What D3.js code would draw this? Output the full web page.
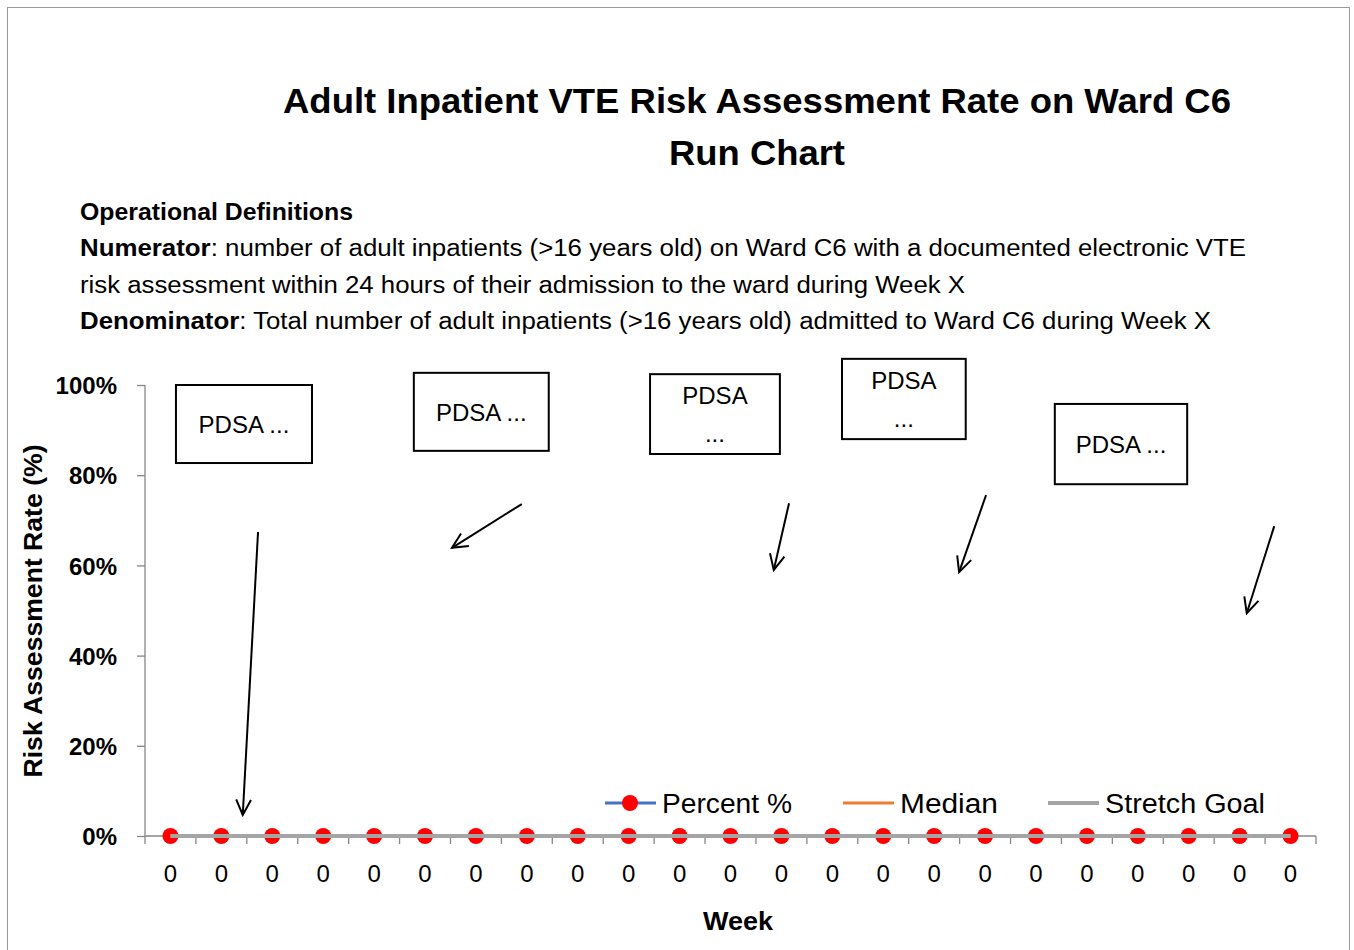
<!DOCTYPE html>
<html><head><meta charset="utf-8">
<script src="https://cdn.jsdelivr.net/npm/d3@7"></script>
<style>body{margin:0;background:#fff}svg{display:block}text{font-family:"Liberation Sans",Arial,sans-serif}</style>
</head><body><div id="chart"></div>
<script>
// ---- data ----
const weeks = d3.range(23).map(() => "0");
const percentValues = d3.range(23).map(() => 0);
const medianValues = d3.range(23).map(() => 0);
const stretchGoalValues = d3.range(23).map(() => 0);
const yTicks = [0, 20, 40, 60, 80, 100];
const seriesNames = ["Percent %", "Median", "Stretch Goal"];
const seriesColors = ["#4472c4", "#ed7d31", "#a5a5a5"];
// PDSA annotations in data units (category index, percent)
const pdsaBoxes = [
  {x0: 0.108, x1: 2.78, y0: 100, y1: 82.7, lines: ["PDSA ..."]},
  {x0: 4.78, x1: 7.43, y0: 102.7, y1: 85.4, lines: ["PDSA ..."]},
  {x0: 9.42, x1: 11.97, y0: 102.4, y1: 84.7, lines: ["PDSA", "..."]},
  {x0: 13.19, x1: 15.62, y0: 105.8, y1: 88.0, lines: ["PDSA", "..."]},
  {x0: 17.37, x1: 19.97, y0: 95.8, y1: 78.0, lines: ["PDSA ..."]}
];
const pdsaArrows = [
  {x0: 1.72, y0: 67.4, x1: 1.42, y1: 4.66},
  {x0: 6.90, y0: 73.6, x1: 5.53, y1: 63.9},
  {x0: 12.15, y0: 73.8, x1: 11.85, y1: 59.0},
  {x0: 16.02, y0: 75.6, x1: 15.49, y1: 58.5},
  {x0: 21.68, y0: 68.7, x1: 21.14, y1: 49.4}
];

const W = 1354, H = 950;
const svg = d3.select("#chart").append("svg").attr("width", W).attr("height", H);
svg.append("rect").attr("x", 7.5).attr("y", 7.5).attr("width", 1342).attr("height", 960)
  .attr("fill", "#fff").attr("stroke", "#9a9a9a").attr("stroke-width", 1);

const x = d3.scaleLinear().domain([-0.5, weeks.length - 0.5]).range([145, 1316]);
const y = d3.scaleLinear().domain([0, 100]).range([836, 385]);
const axisCol = "#868686";
const fit = "spacingAndGlyphs";

// title
const title = svg.append("g").attr("font-weight", "bold").attr("font-size", 35).attr("text-anchor", "middle");
title.append("text").attr("x", 757).attr("y", 113).attr("textLength", 948).attr("lengthAdjust", fit)
  .text("Adult Inpatient VTE Risk Assessment Rate on Ward C6");
title.append("text").attr("x", 757).attr("y", 165).attr("textLength", 176).attr("lengthAdjust", fit).text("Run Chart");

// operational definitions
const defs = svg.append("g").attr("font-size", 23);
defs.append("text").attr("x", 80).attr("y", 220).attr("font-weight", "bold")
  .attr("textLength", 273).attr("lengthAdjust", fit).text("Operational Definitions");
const l1 = defs.append("text").attr("x", 80).attr("y", 256).attr("textLength", 1166).attr("lengthAdjust", fit);
l1.append("tspan").attr("font-weight", "bold").text("Numerator");
l1.append("tspan").text(":  number of adult inpatients (>16 years old) on Ward C6 with a documented electronic VTE");
defs.append("text").attr("x", 80).attr("y", 293).attr("textLength", 885).attr("lengthAdjust", fit)
  .text("risk assessment within 24 hours of their admission to the ward during Week X");
const l3 = defs.append("text").attr("x", 80).attr("y", 329).attr("textLength", 1131).attr("lengthAdjust", fit);
l3.append("tspan").attr("font-weight", "bold").text("Denominator");
l3.append("tspan").text(": Total number of adult inpatients (>16 years old) admitted to Ward C6 during Week X");

// y axis
const yAxis = svg.append("g").attr("transform", "translate(145,0)")
  .call(d3.axisLeft(y).tickValues(yTicks).tickSize(8).tickPadding(20).tickFormat(d => d + "%"));
yAxis.select(".domain").attr("stroke", axisCol).attr("stroke-width", 1.3).attr("d", "M0,385V836");
yAxis.selectAll(".tick line").attr("stroke", axisCol).attr("stroke-width", 1.3);
yAxis.selectAll(".tick text").attr("font-size", 24).attr("font-weight", "bold").attr("fill", "#000")
  .attr("font-family", "'Liberation Sans',Arial,sans-serif").attr("dy", "0.36em");

// x axis
const boundaries = d3.range(weeks.length + 1).map(i => i - 0.5);
const xg = svg.append("g");
xg.append("line").attr("x1", x(-0.5)).attr("x2", x(weeks.length - 0.5)).attr("y1", y(0)).attr("y2", y(0))
  .attr("stroke", axisCol).attr("stroke-width", 1.3);
xg.selectAll(".xt").data(boundaries).enter().append("line")
  .attr("x1", d => x(d)).attr("x2", d => x(d)).attr("y1", y(0)).attr("y2", y(0) + 8)
  .attr("stroke", axisCol).attr("stroke-width", 1.3);
xg.selectAll(".xl").data(weeks).enter().append("text")
  .attr("x", (d, i) => x(i)).attr("y", 882).attr("text-anchor", "middle").attr("font-size", 24).text(d => d);

// axis titles
svg.append("text").attr("transform", "translate(42,611) rotate(-90)").attr("text-anchor", "middle")
  .attr("font-size", 25).attr("font-weight", "bold").attr("textLength", 333).attr("lengthAdjust", fit)
  .text("Risk Assessment Rate (%)");
svg.append("text").attr("x", 738).attr("y", 930).attr("text-anchor", "middle")
  .attr("font-size", 25).attr("font-weight", "bold").attr("textLength", 70).attr("lengthAdjust", fit).text("Week");

// series
const line = d3.line().x((d, i) => x(i)).y(d => y(d));
svg.append("path").datum(percentValues).attr("d", line).attr("fill", "none").attr("stroke", seriesColors[0]).attr("stroke-width", 3);
svg.selectAll(".pt").data(percentValues).enter().append("circle")
  .attr("cx", (d, i) => x(i)).attr("cy", d => y(d)).attr("r", 8).attr("fill", "#ff0000");
svg.append("path").datum(medianValues).attr("d", line).attr("fill", "none").attr("stroke", seriesColors[1]).attr("stroke-width", 3);
svg.append("path").datum(stretchGoalValues).attr("d", line).attr("fill", "none").attr("stroke", seriesColors[2]).attr("stroke-width", 4);

// legend
const legend = svg.append("g").attr("font-size", 27);
const legX = [605, 843, 1048];
const legW = [130, 98, 160];
seriesNames.forEach((name, i) => {
  const g = legend.append("g").attr("transform", `translate(${legX[i]},803)`);
  g.append("line").attr("x1", 0).attr("x2", 51).attr("stroke", seriesColors[i]).attr("stroke-width", i === 2 ? 4 : 3);
  if (i === 0) g.append("circle").attr("cx", 25).attr("r", 8).attr("fill", "#ff0000");
  g.append("text").attr("x", 57).attr("y", 10).attr("textLength", legW[i]).attr("lengthAdjust", fit).text(name);
});

// PDSA boxes
const bx = svg.append("g");
pdsaBoxes.forEach(b => {
  const g = bx.append("g");
  g.append("rect").attr("x", x(b.x0)).attr("y", y(b.y0)).attr("width", x(b.x1) - x(b.x0)).attr("height", y(b.y1) - y(b.y0))
    .attr("fill", "#fff").attr("stroke", "#000").attr("stroke-width", 2);
  const cx = (x(b.x0) + x(b.x1)) / 2, cy = (y(b.y0) + y(b.y1)) / 2;
  const n = b.lines.length;
  b.lines.forEach((t, k) => {
    g.append("text").attr("x", cx).attr("y", cy + (k - (n - 1) / 2) * 38 + 9).attr("text-anchor", "middle")
      .attr("font-size", 24).text(t);
  });
});

// arrows
pdsaArrows.forEach(a => {
  const X0 = x(a.x0), Y0 = y(a.y0), X1 = x(a.x1), Y1 = y(a.y1);
  svg.append("line").attr("x1", X0).attr("y1", Y0).attr("x2", X1).attr("y2", Y1).attr("stroke", "#000").attr("stroke-width", 2);
  const ang = Math.atan2(Y1 - Y0, X1 - X0), L = 17, spread = 0.45;
  const p1 = [X1 - L * Math.cos(ang - spread), Y1 - L * Math.sin(ang - spread)];
  const p2 = [X1 - L * Math.cos(ang + spread), Y1 - L * Math.sin(ang + spread)];
  svg.append("path").attr("d", `M${p1}L${X1},${Y1}L${p2}`).attr("fill", "none").attr("stroke", "#000").attr("stroke-width", 2);
});
</script></body></html>
